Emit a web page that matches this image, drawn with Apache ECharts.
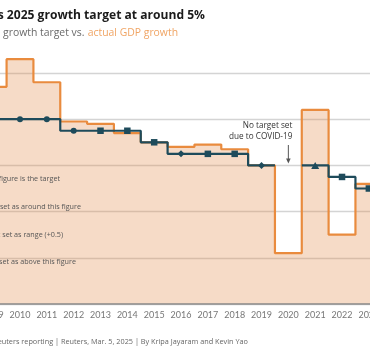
<!DOCTYPE html>
<html><head><meta charset="utf-8">
<script src="https://cdn.jsdelivr.net/npm/echarts@6/dist/echarts.min.js"></script>
<style>
html,body{margin:0;padding:0;overflow:hidden;background:#fff;width:370px;height:355px;position:relative}
#c{position:absolute;left:-100px;top:0;width:570px;height:355px}
</style>
</head><body><div id="c"></div>
<script>
const years = ['2009','2010','2011','2012','2013','2014','2015','2016','2017','2018','2019','2020','2021','2022','2023','2024','2025'];
const actualGDP = [9.4,10.6,9.6,7.9,7.8,7.4,7.0,6.8,6.9,6.7,6.0,2.2,8.4,3.0,5.2,5.0,null];
const targetGDP = [8,8,8,7.5,7.5,7.5,7,6.5,6.5,6.5,6,null,6,5.5,5,5,5];
const targetType = ['exact','exact','exact','exact','around','around','around','range','around','around','range',null,'above','around','around','around','around'];
const yTicks = [0,2,4,6,8,10,12];

const TEAL = '#1e4b5b', ORANGE = '#e98b3e';
const FONT = '"Open Sans", "Noto Sans", sans-serif';
const AXFONT = 'Lato, "Noto Sans", sans-serif';
const symbolFor = {exact:'circle', around:'rect', range:'diamond', above:'triangle'};
const sizeFor = {exact:6, around:6.5, range:[7,7], above:[8,7]};

const targetData = targetGDP.map((v,i)=> v==null ? null : {
  value: v, symbol: symbolFor[targetType[i]], symbolSize: sizeFor[targetType[i]]
});

const chart = echarts.init(document.getElementById('c'), null, {renderer:'canvas'});
chart.setOption({
  animation:false,
  backgroundColor:'#fff',
  grid:{left:79.75, right:34.05, top:26.8, bottom:51},
  xAxis:{
    type:'category', data:years, boundaryGap:true, z:5,
    axisLine:{lineStyle:{color:'#8c8c8c', width:1.5}},
    axisTick:{alignWithLabel:true, length:3, lineStyle:{color:'#999'}},
    axisLabel:{color:'#777', fontSize:9, fontFamily:AXFONT, margin:7, interval:0}
  },
  yAxis:{
    type:'value', min:yTicks[0], max:yTicks[yTicks.length-1], interval:2,
    axisLine:{show:false}, axisTick:{show:false}, axisLabel:{show:false},
    splitLine:{lineStyle:{color:['#d4d4d4','#d4d4d4','#d4d4d4','#d4d4d4','#d4d4d4','#d4d4d4','rgba(0,0,0,0)'], width:1.3}}
  },
  series:[
    {type:'line', step:'middle', data:actualGDP, showSymbol:false, z:2,
     lineStyle:{color:ORANGE, width:2.2},
     areaStyle:{color:'rgba(226,136,70,0.3)', opacity:1}},
    {type:'line', step:'middle', data:targetData, connectNulls:false, z:4,
     lineStyle:{color:TEAL, width:2.2},
     itemStyle:{color:TEAL, borderWidth:0}, showSymbol:true}
  ]
});

const px = (cat,val)=>chart.convertToPixel({xAxisIndex:0,yAxisIndex:0},[cat,val]);
const covid = px('2020', 6);
const g = [];
g.push({type:'text', style:{text:'China keeps 2025 growth target at around 5%', x:305, y:15.5, align:'right', verticalAlign:'middle', font:'bold 12.1px '+FONT, fill:'#1b1b1b'}});
g.push({type:'text', style:{text:'{a|China’s} {b|growth target vs.} {c|actual GDP growth}', x:278, y:33, align:'right', verticalAlign:'middle',
  rich:{a:{fill:'#2d6f93', font:'10.4px '+FONT}, b:{fill:'#6a6a6a', font:'10.4px '+FONT}, c:{fill:'#f0a565', font:'10.4px '+FONT}}}});
const legendLines = [
  ['Exact figure is the target', 160, 179.3],
  ['Target set as around this figure', 181, 207.3],
  ['Target set as range (+0.5)', 163, 235],
  ['Target set as above this figure', 176, 262.3]
];
legendLines.forEach(([t,x,y])=>g.push({type:'text', z:10, style:{text:t, x:x, y:y, align:'right', verticalAlign:'middle', font:'7.2px '+FONT, fill:'#555'}}));
g.push({type:'text', z:10, style:{text:'No target set', x:covid[0]+4, y:126, align:'right', verticalAlign:'middle', font:'8.2px '+FONT, fill:'#333'}});
g.push({type:'text', z:10, style:{text:'due to COVID-19', x:covid[0]+4, y:136.7, align:'right', verticalAlign:'middle', font:'8.2px '+FONT, fill:'#333'}});
g.push({type:'line', z:10, shape:{x1:covid[0], y1:145, x2:covid[0], y2:160}, style:{stroke:'#555', lineWidth:1}});
g.push({type:'polygon', z:10, shape:{points:[[covid[0]-2.3,158.5],[covid[0]+2.3,158.5],[covid[0],163.5]]}, style:{fill:'#555'}});
g.push({type:'text', style:{text:'Source: Reuters reporting | Reuters, Mar. 5, 2025 | By Kripa Jayaram and Kevin Yao', x:348, y:342, align:'right', verticalAlign:'middle', font:'7.3px '+FONT, fill:'#666'}});
chart.setOption({graphic:g});
</script>
</body></html>
